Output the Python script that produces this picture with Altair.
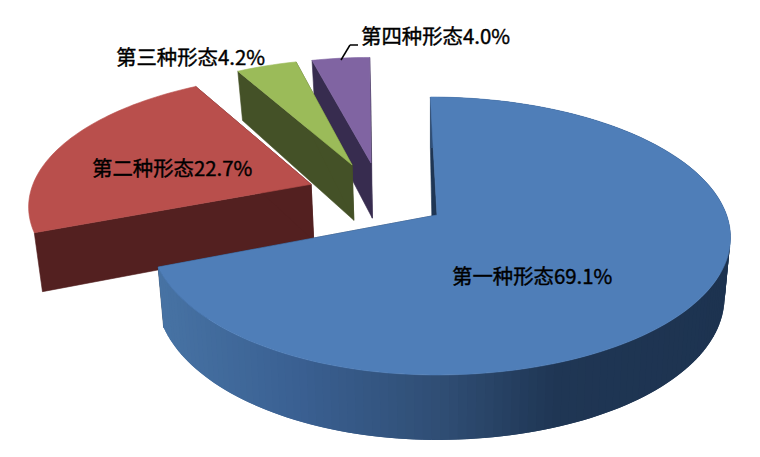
import math
import numpy as np
import altair as alt

names = ["第一种形态", "第二种形态", "第三种形态", "第四种形态"]
shares = [69.1, 22.7, 4.2, 4.0]
top_colors = ["#4f7eb8", "#b94f4c", "#9bbb59", "#8064a2"]
wall_colors = ["#1f3654", "#532020", "#445127", "#372c4f"]
# explosion of each slice in the plane of the pie (unit radius)
explode = [(0.0, 0.0), (-0.43, -0.234), (-0.292, -0.39), (-0.219, -0.4065)]
skews = [3, 10, 10, 11]
left_radius = [280, 288, 280, 280]
apex_shift = [4, 0, 0, 0]
label_pos = [(452, 278), (92, 170), (116, 59), (361, 38)]
blue_x = [150, 300, 450, 560, 730]
blue_c = [(72, 116, 165), (58, 96, 146), (47, 77, 115), (31, 54, 84), (29, 51, 80)]

CX, CY, A, B, K = 433, 215, 293.6, 135.8, 0.151
OX, OY = 8, 8


def project(i, X, Y, z=0.0):
    den = 1 - K * Y
    a = A if X > 0 else left_radius[i]
    x = CX + a * X / den + skews[i] * Y / den + z * (-6 * X)
    y = CY + B * Y / den + z * 58 * (1 + 0.12 * Y)
    return [x - OX, y - OY]


def poly(points, fill, line=True):
    ring = [list(p) for p in points] + [list(points[0])]
    return {"type": "Feature", "properties": {"fill": fill, "stroke": fill if line else "transparent"},
            "geometry": {"type": "Polygon", "coordinates": [ring]}}


def hexc(c):
    return "#%02x%02x%02x" % tuple(int(round(v)) for v in c)


def blue_wall(x):
    return hexc([np.interp(x, blue_x, [c[i] for c in blue_c]) for i in range(3)])


spans = []
acc = 0.0
for s in shares:
    spans.append((acc, acc + s))
    acc += s
scale = 360.0 / acc

features = []
for i in [3, 2, 1, 0]:
    a0, a1 = spans[i][0] * scale, spans[i][1] * scale
    ex, ey = explode[i]
    n = max(4, int((a1 - a0) / 1.5))
    angles = np.linspace(a0, a1, n + 1)
    rim = [(ex + math.sin(math.radians(t)), ey - math.cos(math.radians(t))) for t in angles]
    apex = (ex, ey)
    apex_top = project(i, *apex)
    apex_top[0] += apex_shift[i]
    for p in (rim[0], rim[-1]):
        features.append(poly([apex_top, project(i, *p), project(i, *p, 1), project(i, *apex, 1)], wall_colors[i]))
    if i == 0:
        # painted right to left; each strip reaches under the next one
        k = len(rim) - 1
        for j in range(0, k):
            p, q = rim[j], rim[min(j + 2, k)]
            pts = [project(i, *p), project(i, *q), project(i, *q, 1), project(i, *p, 1)]
            features.append(poly(pts, blue_wall(pts[0][0] + OX), line=False))
    features.append(poly([apex_top] + [project(i, *p) for p in rim], top_colors[i]))

shapes = alt.Chart(alt.Data(values=features)).mark_geoshape(strokeWidth=0.6).encode(
    fill=alt.Fill("properties.fill:N", scale=None),
    stroke=alt.Stroke("properties.stroke:N", scale=None),
).project(type="identity", scale=1, translate=[0, 0])

layers = [shapes]
for n, s, (x, y) in zip(names, shares, label_pos):
    layers.append(
        alt.Chart(alt.Data(values=[{"t": f"{n}{s}%"}])).mark_text(
            align="left", baseline="middle", font="Noto Sans CJK SC", fontSize=20.4,
            color="#000000", stroke="#000000", strokeWidth=0.4,
        ).encode(text="t:N", x=alt.value(x - OX), y=alt.value(y - OY))
    )
layers.append(
    alt.Chart(alt.Data(values=[{"k": 0}])).mark_rule(color="#000000", strokeWidth=1.5).encode(
        x=alt.value(341 - OX), x2=alt.value(350 - OX), y=alt.value(60 - OY), y2=alt.value(45 - OY))
)
layers.append(
    alt.Chart(alt.Data(values=[{"k": 0}])).mark_rule(color="#000000", strokeWidth=1.5).encode(
        x=alt.value(350 - OX), x2=alt.value(358 - OX), y=alt.value(45 - OY), y2=alt.value(45 - OY))
)

chart = alt.layer(*layers).properties(
    width=744, height=441, padding=0, background="#ffffff",
    autosize=alt.AutoSizeParams(type="none"),
).configure_view(stroke=None)

chart.save("out.html", embed_options={"renderer": "svg", "actions": False})
